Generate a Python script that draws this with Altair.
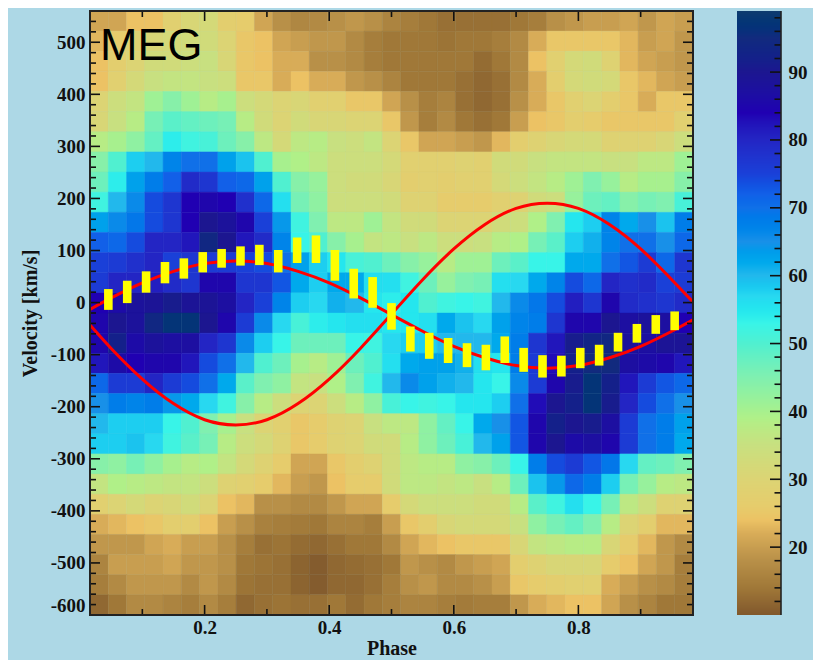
import altair as alt
import numpy as np
import pandas as pd

# Heatmap values, top row first, one list per velocity row (33 phase bins)
rows = [
 [21,21,24,24,28,31,32,27,26,21,18,16.5,17,18,19,18,16,15,14,13,13,13,13,14,15,18,19,20,20,21,19,21,20],
 [23,26,29,31,32,33,33,30,25,24,21,20,19,19,17,15,14,14,14,13.5,14,14,15,17,22,25,25,25,25,23,20,21,19],
 [24,27,30,33,33,34,35,31,25,24,22,22,18,18,17,15,14,14,14,14,14,12.5,14,17,24,28,32,33,29,23,21,20,19],
 [24,28,32,35,36,36,35,34,25,25,22,24,22,22,19,18,16,14,14,14,13,12,13,17,22,27,32,33,32,25,23,21,20],
 [30,34,36,41,44,41,38,40,34,32,30,31,28,28,25,25,21,18,15,16,13,12,13,18,22,25,28,30,27,25,22,25,25],
 [31,35,38,46,49,48,47,46,38,33,30,33,31,31,30,30,25,19,15,17,14,13,14,20,24,25,27,26,25,25,25,25,28],
 [38,40,43,48,54,52,51,47,44,37,32,37,38,35,34,36,30,25,21,21,20,19,23,27,29,31,32,32,29,29,29,31,34],
 [44,50,58,60,67,70,70,63,59,50,40,39,37,34,34,34,32,28,28,28,29,28,33,33,35,36,36,36,35,35,37,37,41],
 [47,54,63,68,72,79,77,72,71,63,50,44,42,34,33,33,31,27,28,27,28,28,32,34,36,38,41,45,42,38,40,40,44],
 [52,60,66,74,77,84,85,84,78,71,56,46,43,34,34,34,33,29,29,26,26,26,28,29,33,34,42,47,48,44,46,45,51],
 [63,66,69,74,77,84,90,88,85,75,64,52,45,37,37,41,36,33,33,30,30,30,33,34,39,45,55,58,67,62,65,59,68],
 [72,71,74,80,80,82,94,90,82,79,67,53,50,44,40,36,37,35,37,34,34,35,38,39,46,49,58,61,67,70,70,65,71],
 [75,76,78,80,75,77,76,76,75,74,70,63,58,55,51,50,47,44,42,38,41,41,47,49,53,53,62,62,70,73,76,71,77],
 [76,80,80,81,79,77,85,85,77,77,73,62,58,62,62,56,56,52,47,42,45,46,56,57,62,67,74,71,80,78,79,75,76],
 [84,86,88,89,91,89,89,87,80,75,67,58,57,61,60,55,54,55,50,52,53,52,60,66,69,74,81,77,85,79,78,77,79],
 [85,90,88,94,97,97,90,85,76,66,57,51,54,55,56,56,55,55,56,62,59,57,63,67,68,77,85,85,90,87,88,87,84],
 [85,92,86,88,87,87,80,77,66,58,53,47,47,47,53,52,57,58,58,60,60,60,62,68,77,82,91,93,94,88,87,89,89],
 [82,86,84,85,85,82,74,70,60,50,47,40,38,41,47,50,56,62,63,63,61,56,55,68,76,83,92,95,95,87,86,85,82],
 [71,76,76,80,76,74,70,62,49,45,43,36,35,39,45,52,60,66,63,61,60,55,53,66,76,85,91,97,92,82,76,73,71],
 [65,68,67,68,64,62,57,52,44,38,34,30,30,34,38,43,51,53,52,53,55,55,58,70,83,90,92,97,91,80,74,70,65],
 [60,58,58,58,53,50,45,40,35,30,28,25,26,29,30,35,37,37,43,48,53,62,65,73,85,92,90,91,87,76,70,68,63],
 [58,58,59,57,52,49,46,38,34,32,29,25,26,29,30,33,33,38,43,47,51,60,63,73,85,90,86,87,85,76,70,68,62],
 [44,43,46,43,40,38,39,36,32,29,26,21,21,25,27,29,33,37,38,38,43,44,47,53,68,74,76,73,69,57,48,47,45],
 [36,39,38,37,36,36,34,29,28,26,23,20,19,24,26,26,33,37,37,36,37,35,38,47,59,64,71,68,58,46,42,38,37],
 [28,30,32,30,31,33,30,24,23,18,18,17,17,19,21,21,26,32,34,34,34,33,33,38,49,52,56,53,46,37,34,29,29],
 [22,23,24,25,27,27,24,20,18,15.5,15,14.5,14,16,16,15,20,25,27,31,32,32,32,35,43,46,48,45,38,30,27,23,23],
 [19,19,19,21,22,20,20,18,15,13,13.5,12.5,12,13,14,14,17,21,23,24,25,25,25,31,36,37,38,38,31,26,23,19,17],
 [16,20,20,20,21,19,19,18,14,13.5,13,11.5,10.5,12,12.5,13,14,19,18,17,19,20,21,27,29,31,31,31,26,24,21,19,15],
 [15,17,19,19,19,17,19,17,13.5,13,13,11.5,10.5,12,12,13,15,18,19,17,17,18,20,25,26,27,28,28,22,20,18,17,15],
 [12,14,17,17,16,15,17,15,12,13,13.5,13,13,14,12.5,14,15,16,16,15,14.5,15,15,19,22,23,24,24,21,18,16,14,14],
]

x_lo, x_hi = 0.016, 0.984
y_lo, y_hi = -600, 560

# Yellow velocity bars
bar_phase = [(i + 1.5) / 33 for i in range(31)]
bar_top = [26,42,60,78,85,97,103,108,111,101,125,129,101,65,49,-1,-46,-58,-68,-78,-81,-65,-87,-101,-102,-87,-81,-58,-41,-24,-17]
bar_bot = [-14,-1,19,37,46,58,67,71,72,58,76,76,42,8,-10,-52,-94,-108,-116,-124,-130,-116,-133,-144,-142,-126,-121,-94,-77,-60,-53]

# Red curves
curve_phase = [0.016,0.05,0.1,0.15,0.2,0.25,0.3,0.35,0.4,0.45,0.5,0.55,0.6,0.65,0.7,0.75,0.8,0.85,0.9,0.95,0.984]
curve_a = [-43,-88,-147,-194,-225,-235,-225,-194,-147,-88,-22,44,103,150,181,191,181,150,103,44,1]
curve_b = [-13,9,38,60,75,80,75,60,38,9,-23,-55,-84,-106,-121,-126,-121,-106,-84,-55,-33]

# Colour scale stops
stop_vals = [10,14,18,22,24,26,30,35,39,45,50,53,57,60,65,70,72,75,80,84,90,95,99]
stop_cols = ["#80582c","#a07838","#b89048","#d8ac58","#ecc264","#e6cc6c","#dcd474","#c8e080","#b0f088","#80f0b0","#50f0d0","#38f4e8","#28d8f0","#22b8ec","#1890e8","#1070e8","#1260e8","#1a40d8","#2325c4","#2000b2","#1c1690","#122a7e","#0e3b6e"]

y_major = [-600,-500,-400,-300,-200,-100,0,100,200,300,400,500]
y_minor = [v for v in range(-580, 560, 20) if v % 100 != 0]
x_major = [0.2,0.4,0.6,0.8]
x_minor = [0.1,0.3,0.5,0.7,0.9]
cb_major = [20,30,40,50,60,70,80,90]
cb_minor = [v for v in range(12, 99, 2) if v % 10 != 0]

W, H = 603, 604
FONT = "Liberation Serif"
INK = "#111111"

xs = alt.Scale(domain=[x_lo, x_hi], nice=False, zero=False)
ys = alt.Scale(domain=[y_lo, y_hi], nice=False, zero=False)
cs = alt.Scale(domain=stop_vals, range=stop_cols)

ax_x = alt.Axis(title="Phase", values=x_major, ticks=False, domain=False, grid=False,
                labelFont=FONT, labelFontWeight="bold", labelFontSize=19,
                labelColor=INK, labelPadding=3, format=".1f",
                titleFont=FONT, titleFontWeight="bold", titleFontSize=20,
                titleColor=INK, titlePadding=1)
ax_y = alt.Axis(title="Velocity [km/s]", values=y_major, ticks=False, domain=False, grid=False,
                labelFont=FONT, labelFontWeight="bold", labelFontSize=19,
                labelColor=INK, labelPadding=5, labelFlush=True,
                labelExpr="'' + datum.value",
                titleFont=FONT, titleFontWeight="bold", titleFontSize=20,
                titleColor=INK, titlePadding=10)
ax_c = alt.Axis(title=None, orient="right", values=cb_major, ticks=False, domain=False, grid=False,
                labelFont=FONT, labelFontWeight="bold", labelFontSize=19,
                labelColor=INK, labelPadding=7)

dx = (x_hi - x_lo) / 33
dy = (y_hi - y_lo) / 30
cells = []
for r, row in enumerate(rows):
    for c, v in enumerate(row):
        cells.append(dict(x=x_lo + c * dx, x2=x_lo + (c + 1) * dx,
                          y=y_hi - r * dy, y2=y_hi - (r + 1) * dy, v=v))
cells = pd.DataFrame(cells)

heat = alt.Chart(cells).mark_rect(strokeWidth=0.4).encode(
    x=alt.X("x:Q", scale=xs, axis=ax_x),
    x2="x2:Q",
    y=alt.Y("y:Q", scale=ys, axis=ax_y),
    y2="y2:Q",
    color=alt.Color("v:Q", scale=cs, legend=None),
    stroke=alt.Stroke("v:Q", scale=cs, legend=None),
)

def curve(vals):
    d = pd.DataFrame(dict(p=curve_phase, v=vals))
    return alt.Chart(d).mark_line(color="#ff0000", strokeWidth=3, interpolate="natural", clip=True).encode(
        x=alt.X("p:Q", scale=xs, axis=ax_x), y=alt.Y("v:Q", scale=ys, axis=ax_y))

bars = alt.Chart(pd.DataFrame(dict(p=bar_phase, t=bar_top, b=bar_bot))).mark_rule(
    color="#ffff00", strokeWidth=8.6).encode(
    x=alt.X("p:Q", scale=xs, axis=ax_x),
    y=alt.Y("t:Q", scale=ys, axis=ax_y), y2="b:Q")

def vticks(vals, y0, y1):
    return alt.Chart(pd.DataFrame(dict(v=vals))).mark_rule(color=INK, strokeWidth=1.6).encode(
        x=alt.X("v:Q", scale=xs, axis=ax_x), y=alt.value(y0), y2=alt.value(y1))

def hticks(vals, x0, x1, scale=ys, axis=ax_y):
    return alt.Chart(pd.DataFrame(dict(v=vals))).mark_rule(color=INK, strokeWidth=1.6).encode(
        y=alt.Y("v:Q", scale=scale, axis=axis), x=alt.value(x0), x2=alt.value(x1))

frame = alt.Chart(pd.DataFrame(dict(a=[0]))).mark_rect(
    filled=False, stroke="#222222", strokeWidth=2).encode(
    x=alt.value(0), x2=alt.value(W), y=alt.value(0), y2=alt.value(H))

label = alt.Chart(pd.DataFrame(dict(t=["MEG"]))).mark_text(
    font="Liberation Sans", fontSize=45, color="#000000", align="left", baseline="middle").encode(
    text="t:N", x=alt.value(10), y=alt.value(35))

main = alt.layer(
    heat, curve(curve_a), curve(curve_b), bars,
    vticks(x_major, 0, 10), vticks(x_minor, 0, 6),
    vticks(x_major, H - 10, H), vticks(x_minor, H - 6, H),
    hticks(y_major, 0, 10), hticks(y_minor, 0, 6),
    hticks(y_major, W - 10, W), hticks(y_minor, W - 6, W),
    frame, label,
).properties(width=W, height=H)

# Colour bar: one rect per pixel row
levels = np.linspace(10.0, 99.0, H + 1)
cb_df = pd.DataFrame(dict(lo=levels[:-1], hi=levels[1:], v=(levels[:-1] + levels[1:]) / 2))
cby = alt.Scale(domain=[10, 99], nice=False, zero=False)
CW = 44
cb_rect = alt.Chart(cb_df).mark_rect().encode(
    y=alt.Y("lo:Q", scale=cby, axis=ax_c),
    y2="hi:Q",
    color=alt.Color("v:Q", scale=cs, legend=None),
)
cb_edge = alt.Chart(pd.DataFrame(dict(a=[0]))).mark_rule(color="#222222", strokeWidth=1.6).encode(
    x=alt.value(CW), y=alt.value(0), y2=alt.value(H))
cbar = alt.layer(
    cb_rect,
    hticks(cb_major, CW - 11, CW, scale=cby, axis=ax_c),
    hticks(cb_minor, CW - 6.5, CW, scale=cby, axis=ax_c),
    cb_edge,
).properties(width=CW, height=H)

chart = alt.hconcat(main, cbar, spacing=43).resolve_scale(
    color="independent", stroke="independent", x="independent", y="independent"
).properties(
    background="#ADD8E6",
    padding={"left": 12, "top": 2, "right": 6, "bottom": 4},
).configure_view(strokeWidth=0)

chart.save("out.html", embed_options={"renderer": "svg", "actions": False})
